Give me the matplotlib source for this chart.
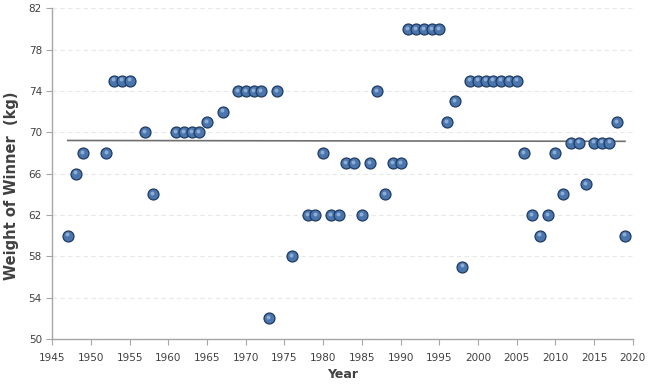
import numpy as np
import matplotlib
matplotlib.use("Agg")
import matplotlib.pyplot as plt

# ── Data ──────────────────────────────────────────────────────────────────────
years = [1947, 1948, 1949, 1952, 1953, 1954, 1955, 1957, 1958,
         1961, 1962, 1963, 1964, 1965, 1967, 1969, 1970, 1971, 1972,
         1973, 1974, 1976, 1978, 1979, 1980, 1981, 1982, 1983, 1984,
         1985, 1986, 1987, 1988, 1989, 1990, 1991, 1992, 1993, 1994,
         1995, 1996, 1997, 1998, 1999, 2000, 2001, 2002, 2003, 2004,
         2005, 2006, 2007, 2008, 2009, 2010, 2011, 2012, 2013, 2014,
         2015, 2016, 2017, 2018, 2019]
weights = [60, 66, 68, 68, 75, 75, 75, 70, 64,
           70, 70, 70, 70, 71, 72, 74, 74, 74, 74,
           52, 74, 58, 62, 62, 68, 62, 62, 67, 67,
           62, 67, 74, 64, 67, 67, 80, 80, 80, 80,
           80, 71, 73, 57, 75, 75, 75, 75, 75, 75,
           75, 68, 62, 60, 62, 68, 64, 69, 69, 65,
           69, 69, 69, 71, 60]

x_ticks = list(range(1945, 2021, 5))
y_ticks = list(range(50, 83, 4))

COL_TEXT = "#404040"
COL_AXIS = "#a6a6a6"
COL_GRID = "#e8e8e8"
COL_DOT = "#4a76ad"
COL_DOT_EDGE = "#1f3b63"

fig = plt.figure(figsize=(6.5, 3.9), dpi=100)
ax = fig.add_axes([0.0805, 0.131, 0.8929, 0.848])

# linear trendline
coef = np.polyfit(years, weights, 1)
tx = np.array([min(years), max(years)])
ax.plot(tx, np.polyval(coef, tx), color="#707070", lw=1.2, zorder=2)

# sphere-like markers: dark rim, body, small highlight
ax.scatter(years, weights, s=62, color=COL_DOT, edgecolors=COL_DOT_EDGE,
           linewidths=0.9, zorder=3)
ax.scatter(np.array(years) - 0.12, np.array(weights) + 0.12, s=8,
           color="#9fbbe0", linewidths=0, alpha=0.8, zorder=4)

ax.set_xlim(1945, 2020)
ax.set_ylim(50, 82)
ax.set_xticks(x_ticks)
ax.set_yticks(y_ticks)
ax.grid(axis="y", color=COL_GRID, linestyle=(0, (4, 3)), linewidth=0.8)
ax.set_axisbelow(True)

for side in ("top", "right"):
    ax.spines[side].set_visible(False)
for side in ("left", "bottom"):
    ax.spines[side].set_color(COL_AXIS)
    ax.spines[side].set_linewidth(1.0)

ax.tick_params(axis="both", colors=COL_AXIS, labelcolor=COL_TEXT,
               labelsize=7.5, length=4, width=0.8, direction="out")
ax.tick_params(axis="x", pad=6)

ax.set_xlabel("Year", fontsize=9, fontweight="bold", color=COL_TEXT, labelpad=4)
ax.set_ylabel("Weight of Winner  (kg)", fontsize=10.5, fontweight="bold",
              color=COL_TEXT, labelpad=7)
ax.yaxis.set_label_coords(-0.058, 0.463)

fig.savefig("out.png", dpi=100)
